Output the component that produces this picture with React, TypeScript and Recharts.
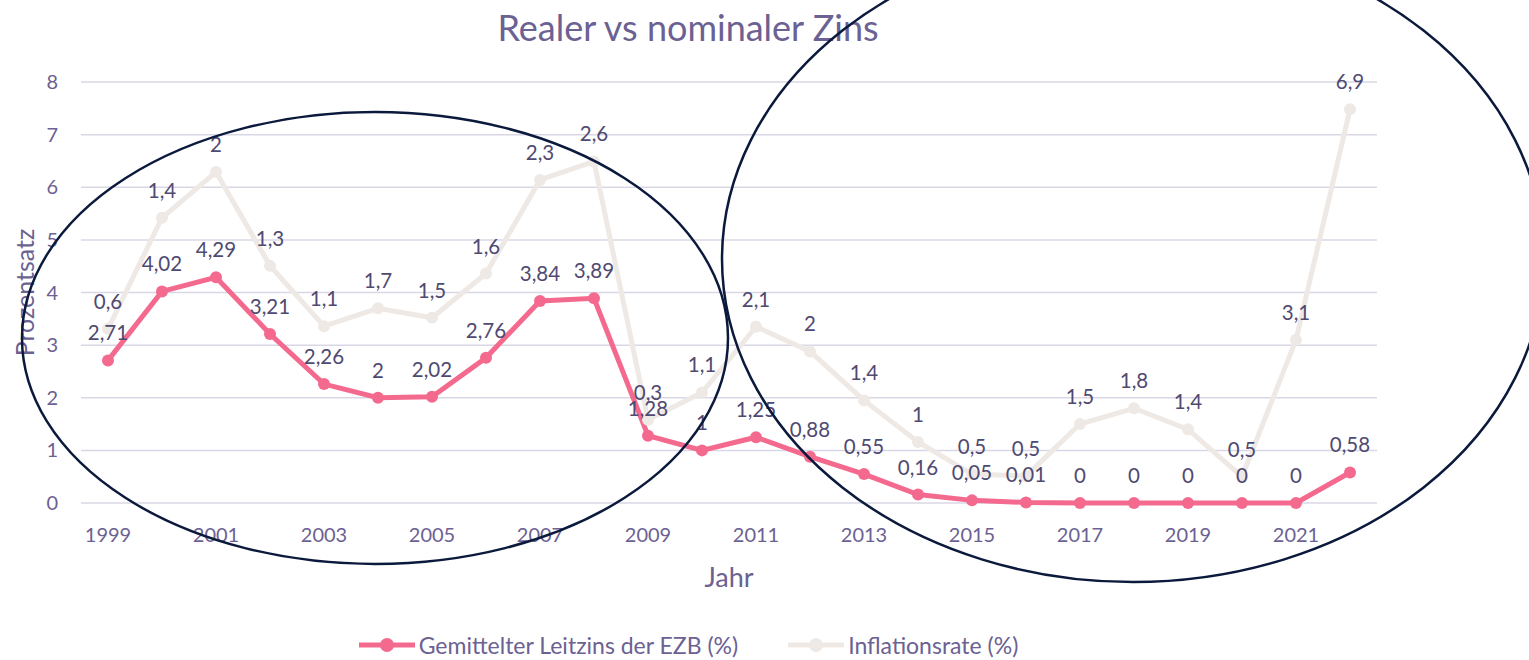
import React from 'react';
import { LineChart, Line, XAxis, YAxis, CartesianGrid, Legend, LabelList } from 'recharts';

const FONT = 'Lato, "Open Sans", sans-serif';
const TEXT = '#6b6192';
const LABEL = '#4f4a72';
const PINK = '#f46a8f';
const BEIGE = '#efe9e5';

const years = [
  '1999', '2000', '2001', '2002', '2003', '2004', '2005', '2006', '2007', '2008', '2009', '2010',
  '2011', '2012', '2013', '2014', '2015', '2016', '2017', '2018', '2019', '2020', '2021', '2022',
];
const leitzins = [
  2.71, 4.02, 4.29, 3.21, 2.26, 2, 2.02, 2.76, 3.84, 3.89, 1.28, 1,
  1.25, 0.88, 0.55, 0.16, 0.05, 0.01, 0, 0, 0, 0, 0, 0.58,
];
const inflation = [
  0.6, 1.4, 2, 1.3, 1.1, 1.7, 1.5, 1.6, 2.3, 2.6, 0.3, 1.1,
  2.1, 2, 1.4, 1, 0.5, 0.5, 1.5, 1.8, 1.4, 0.5, 3.1, 6.9,
];
const yTicks = [0, 1, 2, 3, 4, 5, 6, 7, 8];

const seriesNames = ['Gemittelter Leitzins der EZB (%)', 'Inflationsrate (%)'];
const seriesColors = [PINK, BEIGE];

// Excel-style stacked line: inflation drawn on top of the key rate
const data = years.map((year, i) => ({
  year,
  leitzins: leitzins[i],
  inflation: inflation[i],
  inflationStacked: Math.round((leitzins[i] + inflation[i]) * 100) / 100,
}));

const fmt = (v: any) => String(v).replace('.', ',');

const renderLegend = () => (
  <div
    style={{
      display: 'flex',
      justifyContent: 'center',
      gap: 50,
      height: 30,
      alignItems: 'center',
      fontFamily: FONT,
      fontSize: 23,
      color: TEXT,
    }}
  >
    {seriesNames.map((name, i) => (
      <div key={name} style={{ display: 'flex', alignItems: 'center' }}>
        <svg width={56} height={16} style={{ marginRight: 4 }}>
          <line x1={0} y1={8} x2={56} y2={8} stroke={seriesColors[i]} strokeWidth={5} strokeLinecap="round" />
          <circle cx={28} cy={8} r={7} fill={seriesColors[i]} />
        </svg>
        <span>{name}</span>
      </div>
    ))}
  </div>
);

const renderYLabel = (props: any) => {
  const vb = props.viewBox || { x: 0, y: 82, width: 81, height: 421 };
  const cx = vb.x + 24;
  const cy = vb.y + vb.height / 2;
  return (
    <text
      x={cx}
      y={cy}
      transform={`rotate(-90 ${cx} ${cy})`}
      textAnchor="middle"
      dominantBaseline="central"
      fill={TEXT}
      fontSize={25}
      fontFamily={FONT}
    >
      Prozentsatz
    </text>
  );
};

const renderXLabel = (props: any) => {
  const vb = props.viewBox || { x: 81, y: 503, width: 1296, height: 127 };
  return (
    <text
      x={vb.x + vb.width / 2}
      y={vb.y + 73}
      textAnchor="middle"
      dominantBaseline="central"
      fill={TEXT}
      fontSize={27}
      fontFamily={FONT}
    >
      Jahr
    </text>
  );
};

const labelProps = { position: 'top' as const, offset: 20, formatter: fmt, fill: LABEL, fontSize: 20.5, fontFamily: FONT };

export default function App() {
  return (
    <div style={{ position: 'absolute', left: 0, top: 0, width: 1529, height: 660, background: '#fff' }}>
      <div
        style={{
          position: 'absolute',
          left: 0,
          top: 5,
          width: 1376,
          textAlign: 'center',
          fontFamily: FONT,
          fontSize: 36,
          lineHeight: '44px',
          color: TEXT,
        }}
      >
        Realer vs nominaler Zins
      </div>
      <LineChart width={1529} height={660} data={data} margin={{ top: 82, right: 152, left: 0, bottom: 0 }}>
        <CartesianGrid vertical={false} stroke="#d9d7e6" strokeWidth={1.5} />
        <XAxis
          dataKey="year"
          axisLine={false}
          tickLine={false}
          tickSize={0}
          tickMargin={25}
          interval={1}
          height={127}
          padding={{ left: 27, right: 27 }}
          tick={{ fill: TEXT, fontSize: 20, fontFamily: FONT }}
          label={{ content: renderXLabel }}
        />
        <YAxis
          domain={[0, 8]}
          ticks={yTicks}
          width={81}
          axisLine={false}
          tickLine={false}
          tickSize={0}
          tickMargin={23}
          tick={{ fill: TEXT, fontSize: 20, fontFamily: FONT }}
          label={{ content: renderYLabel }}
        />
        <Legend verticalAlign="bottom" content={renderLegend} />
        <Line
          dataKey="leitzins"
          name={seriesNames[0]}
          stroke={PINK}
          strokeWidth={5}
          dot={{ r: 6, fill: PINK, stroke: PINK, strokeWidth: 0 }}
          activeDot={false}
          isAnimationActive={false}
        />
        <Line
          dataKey="inflationStacked"
          name={seriesNames[1]}
          stroke={BEIGE}
          strokeWidth={5}
          dot={{ r: 6, fill: BEIGE, stroke: BEIGE, strokeWidth: 0 }}
          activeDot={false}
          isAnimationActive={false}
        />
        {/* label layers drawn after both lines, as in the original */}
        <Line dataKey="leitzins" stroke="none" dot={false} activeDot={false} legendType="none" isAnimationActive={false}>
          <LabelList dataKey="leitzins" {...labelProps} />
        </Line>
        <Line dataKey="inflationStacked" stroke="none" dot={false} activeDot={false} legendType="none" isAnimationActive={false}>
          <LabelList dataKey="inflation" {...labelProps} />
        </Line>
      </LineChart>
      <svg
        width={1529}
        height={660}
        style={{ position: 'absolute', left: 0, top: 0, pointerEvents: 'none', overflow: 'hidden' }}
      >
        <ellipse cx={375} cy={338} rx={353} ry={226} fill="none" stroke="#0b1a3c" strokeWidth={2.5} />
        <ellipse cx={1133} cy={259} rx={411} ry={323} fill="none" stroke="#0b1a3c" strokeWidth={2.5} />
      </svg>
    </div>
  );
}
